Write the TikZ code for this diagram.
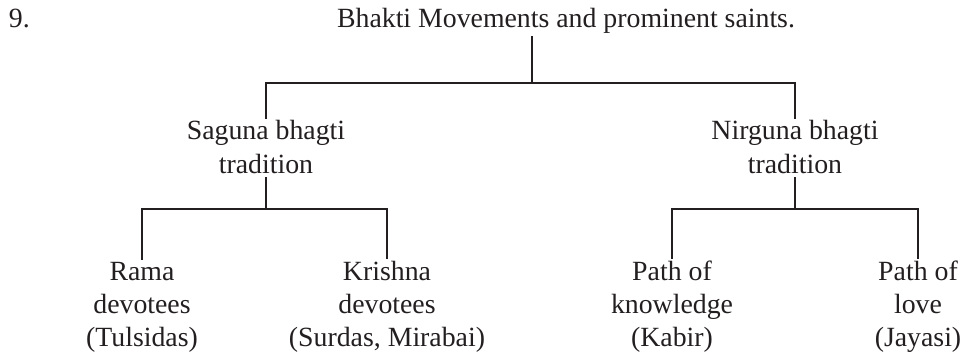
\documentclass[tikz,border=0pt]{standalone}
\usepackage{fontspec}
\setmainfont{Liberation Serif}
\usetikzlibrary{positioning}
\definecolor{ink}{HTML}{231F20}

\begin{document}
\begin{tikzpicture}[x=0.5pt,y=0.5pt]
      \useasboundingbox (0,0) rectangle (963,354);
      \begin{scope}[every node/.style={align=center,inner sep=0.75pt,anchor=base,
          text=ink,font=\fontsize{13.9}{16.5}\selectfont}]
        \node (Q) [anchor=base west] at (7,326) {9.};
        \node (B) at (566,326) {Bhakti Movements and prominent saints.};
        \node (S) at (266,181) {Saguna bhagti\\tradition};
        \node (N) at (795,181) {Nirguna bhagti\\tradition};
        \node (R) at (142,8) {Rama\\devotees\\(Tulsidas)};
        \node (K) at (387,8) {Krishna\\devotees\\(Surdas, Mirabai)};
        \node (P) at (672,8) {Path of\\knowledge\\(Kabir)};
        \node (L) at (918,8) {Path of\\love\\(Jayasi)};
      \end{scope}
      \coordinate (b0) at (532,271);
      \coordinate (s0) at (266,145);
      \coordinate (n0) at (795,145);
      \begin{scope}
        [every edge/.style={draw=ink, line width=1.25pt},
        elbow/.style={to path={-| (\tikztotarget)}}]
        \path (B.south -| b0) edge (b0);
        \path (b0) edge[elbow] (S.north);
        \path (b0) edge[elbow] (N.north);
        \path ([yshift=-2pt]S.base) edge (s0);
        \path (s0) edge[elbow] (R.north);
        \path (s0) edge[elbow] (K.north);
        \path ([yshift=-2pt]N.base) edge (n0);
        \path (n0) edge[elbow] (P.north);
        \path (n0) edge[elbow] (L.north);
      \end{scope}
    \end{tikzpicture}
\end{document}
